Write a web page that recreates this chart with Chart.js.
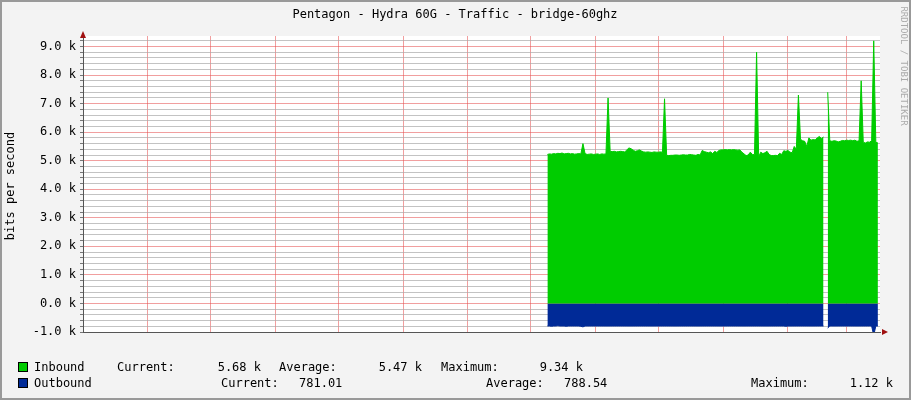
<!DOCTYPE html><html><head><meta charset="utf-8">
<script src="https://cdn.jsdelivr.net/npm/chart.js@4/dist/chart.umd.min.js"></script>
<style>html,body{margin:0;padding:0;background:#f3f3f3}canvas{display:block}</style></head><body>
<div style="width:911px;height:400px"><canvas id="c"></canvas></div>
<script>
// day 0 = Mar 1
const monthNames=['Mar','Apr','May','Jun','Jul','Aug','Sep','Oct','Nov','Dec','Jan','Feb','Mar'];
const monthStartDays=[0,31,61,92,122,153,184,214,245,275,306,337,365];
const dataStartDay=222;
// inbound, k bits/s, one value per day
const inboundK=[
5.22,5.24,5.23,5.25,5.24,5.26,5.25,5.27,5.24,5.25,5.26,5.24,5.25,5.23,5.24,5.25,5.24,5.60,5.25,5.22,5.23,5.24,5.22,
5.23,5.24,5.22,5.24,5.23,5.24,7.20,5.33,5.32,5.33,5.31,5.32,5.33,5.32,5.31,5.38,5.45,5.42,5.37,5.33,5.35,5.38,5.34,5.31,5.30,5.31,5.30,5.29,5.31,5.30,
5.30,5.31,5.30,7.17,5.19,5.18,5.19,5.19,5.20,5.20,5.19,5.20,5.21,5.20,5.20,5.22,5.21,5.20,5.19,5.22,5.20,5.36,5.32,5.30,5.28,5.31,5.25,5.33,5.29,5.36,5.38,
5.38,5.39,5.38,5.39,5.38,5.39,5.38,5.37,5.38,5.30,5.24,5.18,5.20,5.30,5.22,5.21,8.80,5.14,5.30,5.25,5.28,5.33,5.22,5.18,5.18,5.19,5.18,5.26,5.22,5.35,5.33,
5.36,5.30,5.28,5.50,5.40,7.30,5.75,5.70,5.68,5.50,5.80,5.72,5.74,5.73,5.80,5.85,5.78,5.83,null,7.40,5.70,5.68,5.70,5.69,5.66,5.68,5.71,5.70,
5.72,5.71,5.72,5.70,5.72,5.68,5.70,7.80,5.65,5.62,5.66,5.65,5.70,9.20,5.65,5.62];
// outbound, k bits/s (plotted below zero)
const outboundK=[
0.79,0.79,0.80,0.79,0.79,0.78,0.79,0.79,0.79,0.80,0.79,0.79,0.79,0.79,0.79,0.79,0.80,0.82,0.79,0.79,0.79,0.79,0.79,
0.79,0.79,0.79,0.79,0.79,0.79,0.79,0.79,0.79,0.79,0.79,0.79,0.79,0.79,0.79,0.79,0.79,0.79,0.79,0.79,0.79,0.79,0.79,0.79,0.79,0.79,0.79,0.79,0.79,0.79,
0.79,0.79,0.79,0.79,0.79,0.79,0.79,0.79,0.79,0.79,0.79,0.79,0.79,0.79,0.79,0.79,0.79,0.79,0.79,0.79,0.79,0.79,0.79,0.79,0.79,0.79,0.79,0.79,0.79,0.79,0.79,
0.79,0.79,0.79,0.79,0.79,0.79,0.79,0.79,0.79,0.79,0.79,0.79,0.79,0.79,0.79,0.79,0.79,0.79,0.79,0.79,0.79,0.79,0.79,0.79,0.79,0.79,0.79,0.79,0.79,0.79,0.80,
0.79,0.79,0.79,0.79,0.79,0.79,0.79,0.79,0.79,0.79,0.79,0.79,0.79,0.79,0.79,0.79,0.79,0.79,null,0.86,0.79,0.79,0.79,0.79,0.79,0.79,0.79,0.79,
0.79,0.79,0.79,0.79,0.79,0.79,0.79,0.79,0.79,0.79,0.79,0.79,0.79,1.12,0.79,0.79];
const yTickValues=[-1000,0,1000,2000,3000,4000,5000,6000,7000,8000,9000];
const legendRows=[
 {name:'Inbound',color:'#00cc00',cur:'5.68 k',avg:'5.47 k',max:'9.34 k'},
 {name:'Outbound',color:'#002a97',cur:'781.01',avg:'788.54',max:'1.12 k'}];

const F='"DejaVu Sans Mono", monospace';
const inPts=inboundK.map((v,i)=>({x:dataStartDay+i,y:v==null?null:v*1000}));
const outPts=outboundK.map((v,i)=>({x:dataStartDay+i,y:v==null?null:-v*1000}));
const yMinor=[];for(let v=-1000;v<=9300;v+=200)yMinor.push(v);

const deco={id:'deco',
 beforeDraw(c){const g=c.ctx,a=c.chartArea;g.save();g.fillStyle='#fff';g.fillRect(a.left,a.top,a.right-a.left,a.bottom-a.top);g.restore();},
 afterDraw(c){const g=c.ctx,a=c.chartArea;g.save();
  g.fillStyle='#000';g.font='12px '+F;g.textAlign='center';g.textBaseline='middle';
  g.fillText('Pentagon - Hydra 60G - Traffic - bridge-60ghz',455,15);
  g.save();g.translate(11,186);g.rotate(-Math.PI/2);g.fillText('bits per second',0,0);g.restore();
  g.save();g.translate(903,66);g.rotate(Math.PI/2);g.fillStyle='#aaa';g.font='9px '+F;g.fillText('RRDTOOL / TOBI OETIKER',0,0);g.restore();
  // axes arrows
  g.fillStyle='#a01010';g.beginPath();g.moveTo(a.left-3,a.top+2);g.lineTo(a.left+3,a.top+2);g.lineTo(a.left,a.top-5);g.fill();
  g.beginPath();g.moveTo(a.right+2,a.bottom-3);g.lineTo(a.right+2,a.bottom+3);g.lineTo(a.right+8,a.bottom);g.fill();
  // legend
  g.font='12px '+F;g.textAlign='left';g.fillStyle='#000';
  const r=legendRows;
  [368,384].forEach((y,i)=>{g.fillStyle=r[i].color;g.fillRect(19,y-5,9,9);g.strokeStyle='#000';g.lineWidth=1;g.strokeRect(18.5,y-5.5,9,9);g.fillStyle='#000';g.fillText(r[i].name,34,y);});
  g.fillText('Current:',117,368);g.textAlign='right';g.fillText(r[0].cur,261,368);g.textAlign='left';
  g.fillText('Average:',279,368);g.textAlign='right';g.fillText(r[0].avg,422,368);g.textAlign='left';
  g.fillText('Maximum:',441,368);g.textAlign='right';g.fillText(r[0].max,583,368);g.textAlign='left';
  g.fillText('Current:',221,384);g.fillText(r[1].cur,299,384);
  g.fillText('Average:',486,384);g.fillText(r[1].avg,564,384);
  g.fillText('Maximum:',751,384);g.textAlign='right';g.fillText(r[1].max,893,384);
  g.strokeStyle='#999';g.lineWidth=2;g.strokeRect(1,1,909,398);
  g.restore();}};

new Chart(document.getElementById('c'),{type:'line',
 data:{datasets:[
  {data:inPts,borderColor:'#00cc00',backgroundColor:'#00cc00',borderWidth:1,fill:'origin',pointRadius:0,tension:0,spanGaps:false},
  {data:outPts,borderColor:'#002a97',backgroundColor:'#002a97',borderWidth:1,fill:'origin',pointRadius:0,tension:0,spanGaps:false}]},
 options:{animation:false,responsive:true,maintainAspectRatio:false,devicePixelRatio:1,
  layout:{padding:{top:36,right:31,bottom:46,left:0}},
  plugins:{legend:{display:false},tooltip:{enabled:false}},
  scales:{
   x:{type:'linear',min:0,max:381,
     afterBuildTicks(s){s.ticks=monthStartDays.map(v=>({value:v}));},
     afterFit(s){s.height=22;},
     grid:{color:'rgba(230,80,80,0.55)',borderDash:[1,2],drawTicks:false},
     border:{color:'#555',width:1},
     ticks:{display:false}},
   x2:{type:'linear',min:0,max:381,position:'bottom',
     afterBuildTicks(s){s.ticks=monthStartDays.map((v,i)=>({value:i<12?(v+monthStartDays[i+1])/2:v+15}));},
     afterFit(s){s.height=0;},
     grid:{display:false},border:{display:false},
     ticks:{font:{family:F,size:12},color:'#000',padding:6,maxRotation:0,autoSkip:false,
       callback:(v,i)=>monthNames[i]}},
   y:{min:-1000,max:9370,
     afterBuildTicks(s){s.ticks=yMinor.map(v=>({value:v}));},
     afterFit(s){s.width=83;},
     grid:{color:c=>c.tick&&c.tick.value%1000===0?'rgba(230,80,80,0.55)':'rgba(170,170,170,0.7)',borderDash:[1,2],drawTicks:true,tickLength:3,tickColor:'#777'},
     border:{color:'#555',width:1},
     ticks:{font:{family:F,size:12},color:'#000',padding:4,autoSkip:false,
       callback:v=>v%1000===0?(v/1000).toFixed(1)+' k':''}}}},
 plugins:[deco]});
</script></body></html>
